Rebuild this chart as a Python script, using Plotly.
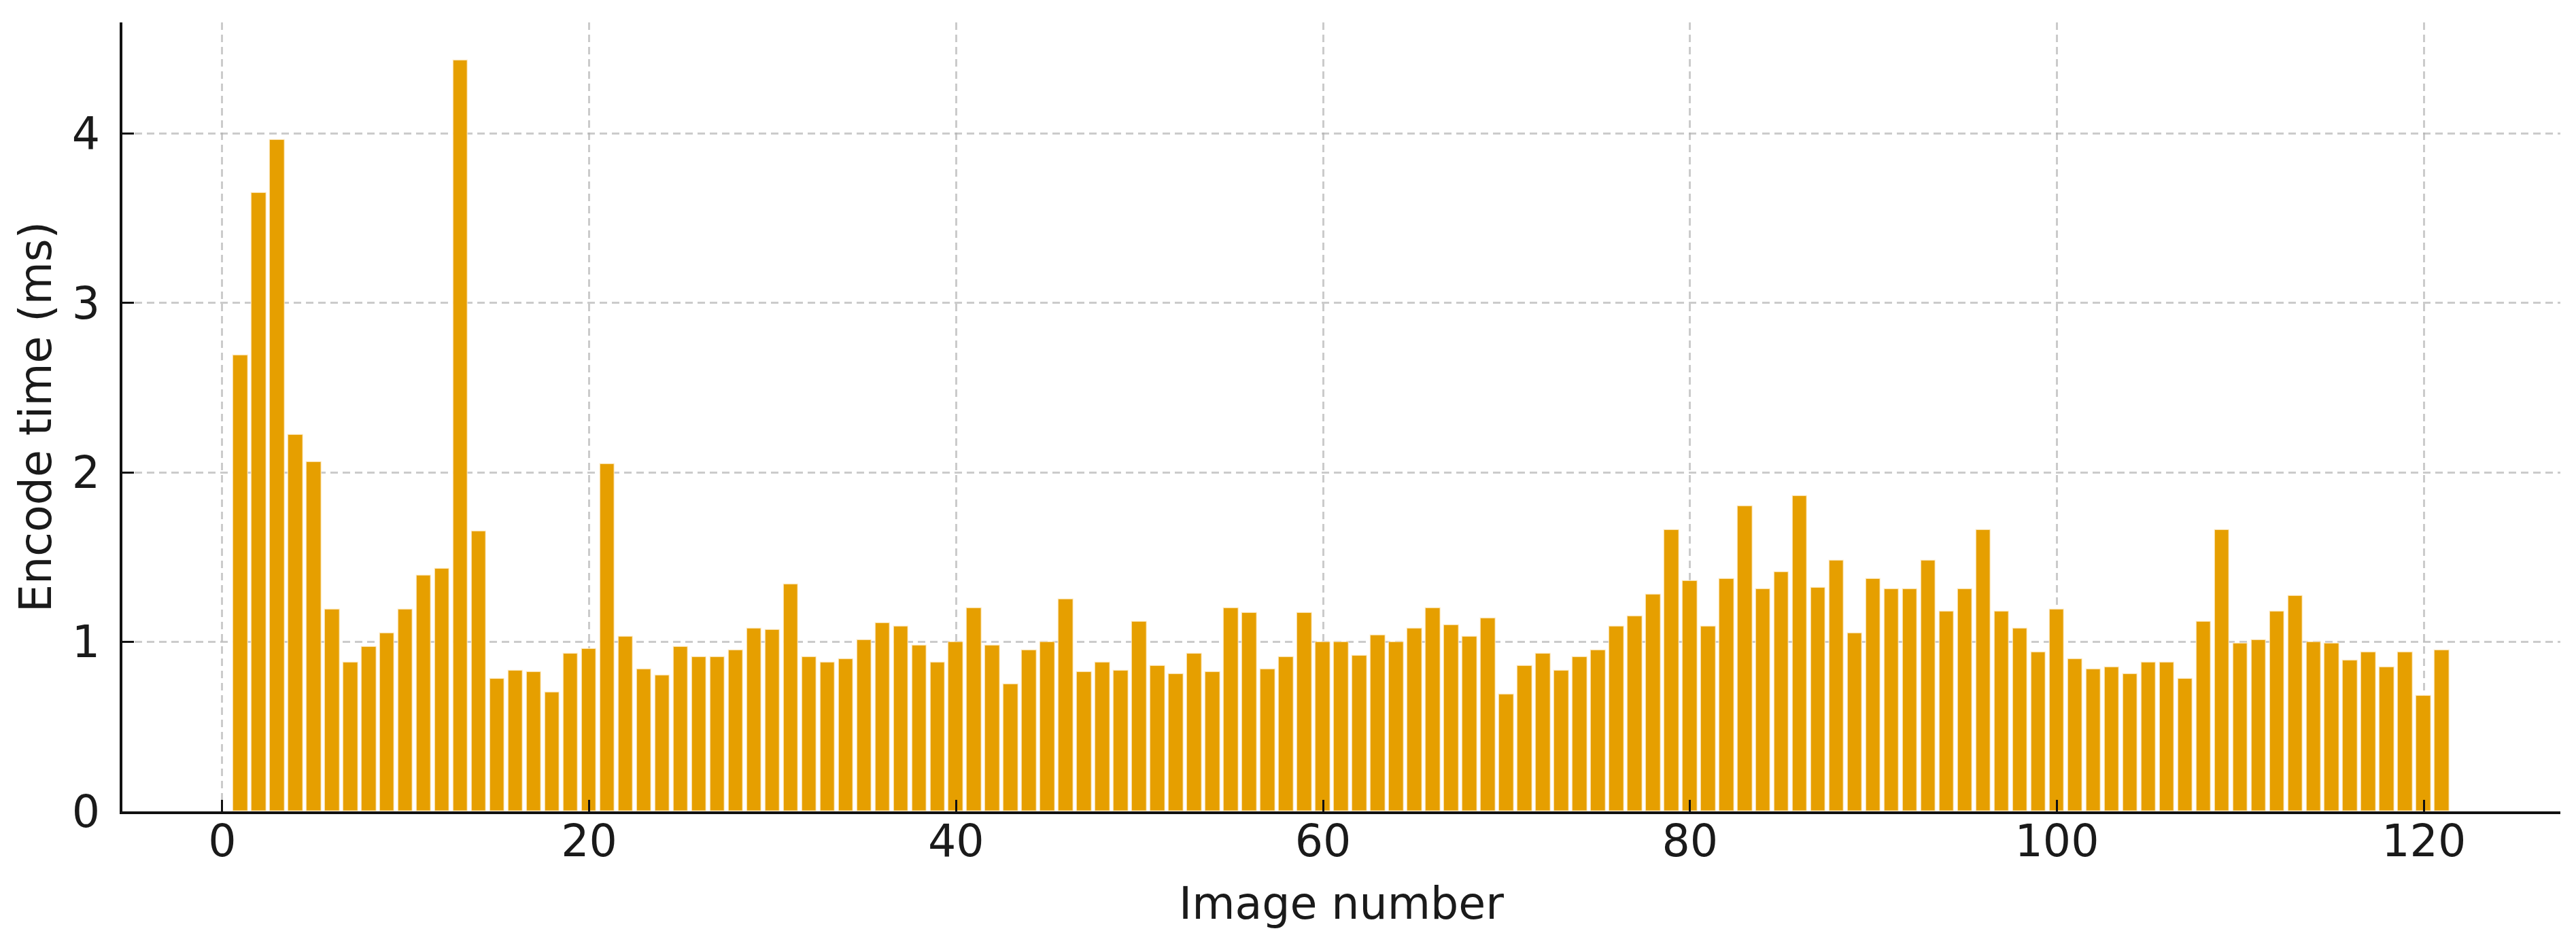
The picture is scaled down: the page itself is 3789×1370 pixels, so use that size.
import plotly.graph_objects as go

image_numbers = list(range(1, 122))
encode_ms = [
    2.69, 3.65, 3.96, 2.22, 2.06, 1.19, 0.88, 0.97, 1.05, 1.19,
    1.39, 1.43, 4.43, 1.65, 0.78, 0.83, 0.82, 0.70, 0.93, 0.96,
    2.05, 1.03, 0.84, 0.80, 0.97, 0.91, 0.91, 0.95, 1.08, 1.07,
    1.34, 0.91, 0.88, 0.90, 1.01, 1.11, 1.09, 0.98, 0.88, 1.00,
    1.20, 0.98, 0.75, 0.95, 1.00, 1.25, 0.82, 0.88, 0.83, 1.12,
    0.86, 0.81, 0.93, 0.82, 1.20, 1.17, 0.84, 0.91, 1.17, 1.00,
    1.00, 0.92, 1.04, 1.00, 1.08, 1.20, 1.10, 1.03, 1.14, 0.69,
    0.86, 0.93, 0.83, 0.91, 0.95, 1.09, 1.15, 1.28, 1.66, 1.36,
    1.09, 1.37, 1.80, 1.31, 1.41, 1.86, 1.32, 1.48, 1.05, 1.37,
    1.31, 1.31, 1.48, 1.18, 1.31, 1.66, 1.18, 1.08, 0.94, 1.19,
    0.90, 0.84, 0.85, 0.81, 0.88, 0.88, 0.78, 1.12, 1.66, 0.99,
    1.01, 1.18, 1.27, 1.00, 0.99, 0.89, 0.94, 0.85, 0.94, 0.68,
    0.95,
]
x_ticks = [0, 20, 40, 60, 80, 100, 120]
y_ticks = [0, 1, 2, 3, 4]

FONT = "DejaVu Sans"
fig = go.Figure(
    go.Bar(
        x=image_numbers,
        y=encode_ms,
        width=0.8,
        marker=dict(color="#E69F00", line=dict(color="rgba(255,240,210,0.7)", width=1.5)),
    )
)

grid = dict(
    showgrid=True,
    gridcolor="rgba(175,175,175,0.65)",
    gridwidth=2.5,
    griddash="11px,7px",
    showline=True,
    linecolor="#111111",
    linewidth=4,
    ticks="inside",
    ticklen=17,
    tickwidth=3,
    tickcolor="#111111",
    zeroline=False,
    layer="above traces",
    tickfont=dict(family=FONT, size=65, color="#1a1a1a"),
)

fig.update_layout(
    width=3789,
    height=1370,
    paper_bgcolor="white",
    plot_bgcolor="white",
    margin=dict(l=172, r=31, t=25, b=184),
    showlegend=False,
    bargap=0,
    font=dict(family=FONT, color="#1a1a1a"),
)
fig.update_xaxes(
    **grid,
    range=[-5.44, 127.44],
    tickvals=x_ticks,
    ticklabelstandoff=-16,
    title=dict(text="Image number", font=dict(family=FONT, size=65, color="#1a1a1a"), standoff=33),
    automargin=False,
)
fig.update_yaxes(
    **grid,
    range=[0, 4.655],
    tickvals=y_ticks,
    ticklabelstandoff=16,
    title=dict(text="Encode time (ms)", font=dict(family=FONT, size=65, color="#1a1a1a"), standoff=10),
    automargin=False,
)

fig.write_html("out.html")
